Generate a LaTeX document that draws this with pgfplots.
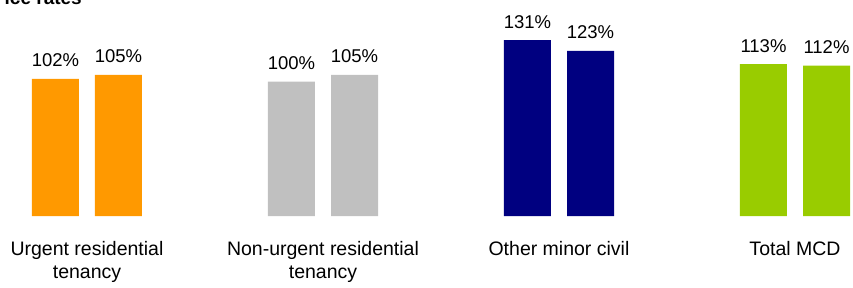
\documentclass[border=0pt]{standalone}
\usepackage{pgfplots}
\pgfplotsset{compat=1.18}
\usepackage{fontspec}
\setmainfont{Liberation Sans}
\definecolor{cOrange}{HTML}{FF9900}
\definecolor{cGray}{HTML}{C0C0C0}
\definecolor{cNavy}{HTML}{000080}
\definecolor{cGreen}{HTML}{99CC00}
\begin{document}
\begin{tikzpicture}[x=1pt,y=1pt]
\begin{axis}[
  scale only axis, width=853pt, height=216pt,
  xmin=-0.3686, xmax=3.2458, ymin=0, ymax=160.8,
  axis line style={draw=none},
  xtick={0,1,2,3}, ytick=\empty, major tick length=0pt,
  xticklabels={{Urgent residential\\tenancy},{Non-urgent residential\\tenancy},{Other minor civil},{Total MCD}},
  xticklabel style={align=center, font=\fontsize{19.5}{23}\selectfont, anchor=north, inner sep=0pt, yshift=-25pt},
  /pgf/number format/assume math mode=true,
  nodes near coords={\pgfmathprintnumber{\pgfplotspointmeta}\%},
  every node near coord/.append style={font=\fontsize{18.5}{22}\selectfont, anchor=base, inner sep=0pt, yshift=12pt, text=black},
  clip=false,
]
\coordinate (bl) at (rel axis cs:0,0);
\addplot[ybar, bar width=47pt, fill=cOrange, draw=none] coordinates {(-0.1335,102) (0.1335,105)};
\addplot[ybar, bar width=47pt, fill=cGray, draw=none] coordinates {(0.8665,100) (1.1335,105)};
\addplot[ybar, bar width=47pt, fill=cNavy, draw=none] coordinates {(1.8665,131) (2.1335,123)};
\addplot[ybar, bar width=47pt, fill=cGreen, draw=none] coordinates {(2.8665,113) (3.1335,112)};
\end{axis}
\node[font=\bfseries\fontsize{19}{23}\selectfont, anchor=base east, inner sep=0pt] at ([shift={(82,211.5)}]bl) {ice rates};
\pgfresetboundingbox
\path[use as bounding box] ([shift={(0,-71)}]bl) rectangle ([shift={(853,216)}]bl);
\end{tikzpicture}
\end{document}
